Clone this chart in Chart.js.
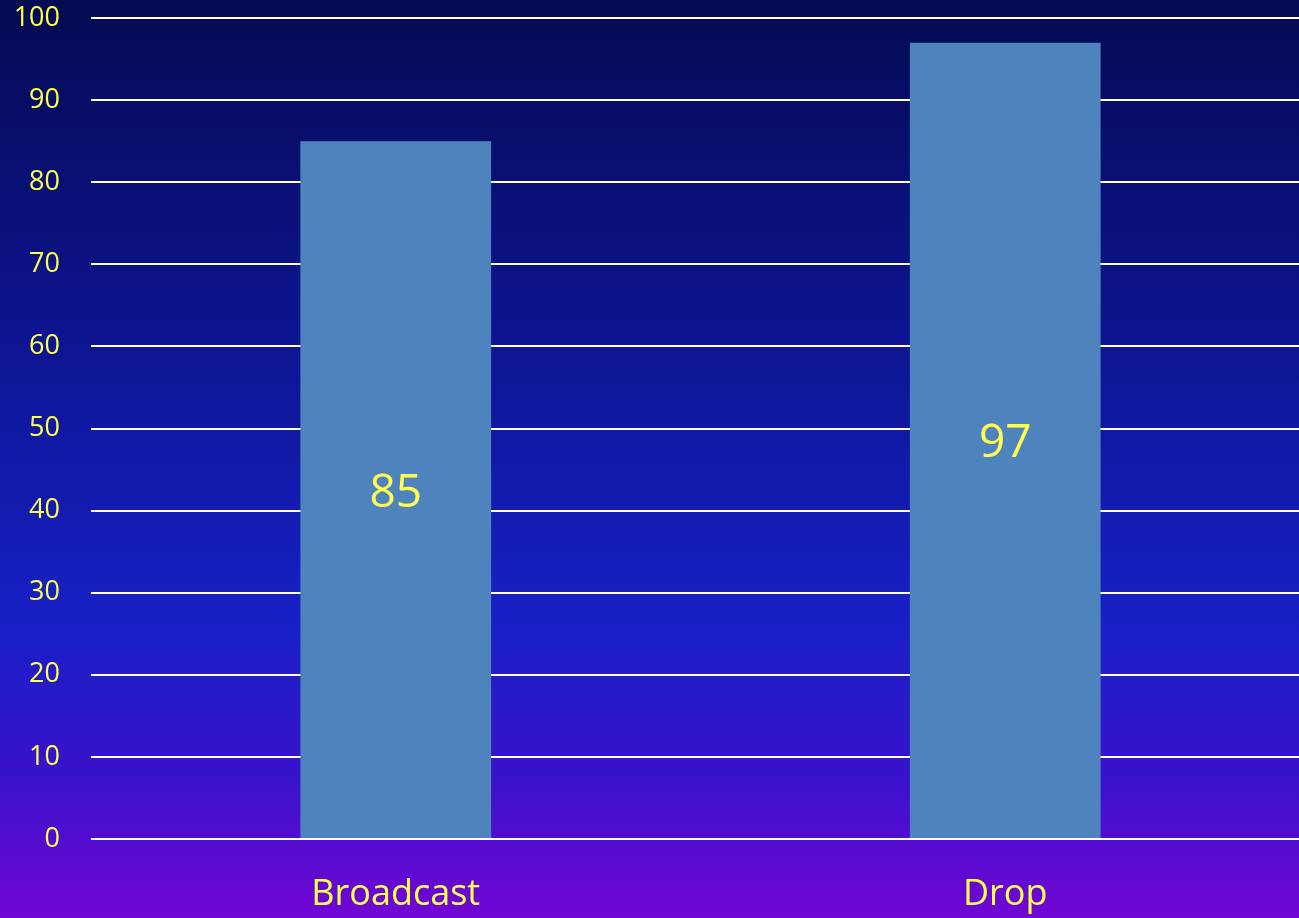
<!DOCTYPE html>
<html>
<head>
<meta charset="utf-8">
<title>Broadcast vs Drop</title>
<script src="https://cdn.jsdelivr.net/npm/chart.js@4/dist/chart.umd.min.js"></script>
<style>
  html, body { margin: 0; padding: 0; background: #1820c4; overflow: hidden; }
  canvas { display: block; }
</style>
</head>
<body>
<canvas id="grafico" width="1310" height="918"></canvas>
<script>
const categorias = ['Broadcast', 'Drop'];
const valores = [85, 97];
const eixoMin = 0;
const eixoMax = 100;
const passo = 10;

const amarelo = '#ffff4d';
const fonte = '"Open Sans", "Noto Sans", sans-serif';

// gradiente do fundo, azul escuro em cima e roxo embaixo
const fundo = {
    id: 'fundo',
    beforeDraw(chart) {
        const ctx = chart.ctx;
        const g = ctx.createLinearGradient(0, 0, 0, chart.height);
        g.addColorStop(0, '#050a52');
        g.addColorStop(0.35, '#0c148e');
        g.addColorStop(0.68, '#1820c6');
        g.addColorStop(0.85, '#3a12cc');
        g.addColorStop(1, '#7206d4');
        ctx.save();
        ctx.fillStyle = g;
        ctx.fillRect(0, 0, chart.width, chart.height);
        ctx.restore();
    }
};

// escreve o valor no meio de cada barra
const rotulos = {
    id: 'rotulos',
    afterDatasetsDraw(chart) {
        const ctx = chart.ctx;
        const meta = chart.getDatasetMeta(0);
        ctx.save();
        ctx.fillStyle = amarelo;
        ctx.font = '46px ' + fonte;
        ctx.textAlign = 'center';
        ctx.textBaseline = 'middle';
        meta.data.forEach((barra, i) => {
            const meio = (barra.y + barra.base) / 2 + 4;
            ctx.fillText(String(valores[i]), barra.x, meio);
        });
        ctx.restore();
    }
};

new Chart(document.getElementById('grafico').getContext('2d'), {
    type: 'bar',
    data: {
        labels: categorias,
        datasets: [{
            data: valores,
            backgroundColor: '#4f83bd',
            borderWidth: 0,
            barPercentage: 0.313,
            categoryPercentage: 1
        }]
    },
    options: {
        responsive: false,
        animation: false,
        layout: { padding: 0 },
        plugins: {
            legend: { display: false },
            tooltip: { enabled: false }
        },
        scales: {
            x: {
                afterFit(scale) {
                    scale.height = 79;
                },
                grid: { display: false, drawTicks: false },
                border: { display: false },
                ticks: {
                    color: amarelo,
                    font: { family: fonte, size: 36 },
                    padding: 34,
                    maxRotation: 0
                }
            },
            y: {
                min: eixoMin,
                max: eixoMax,
                afterFit(scale) {
                    scale.width = 91;
                    scale.paddingTop = 18;
                    scale.paddingBottom = 0;
                },
                grid: { color: '#ffffff', lineWidth: 2, drawTicks: false },
                border: { display: false },
                ticks: {
                    stepSize: passo,
                    color: amarelo,
                    font: { family: fonte, size: 27 },
                    padding: 31
                }
            }
        }
    },
    plugins: [fundo, rotulos]
});
</script>
</body>
</html>
